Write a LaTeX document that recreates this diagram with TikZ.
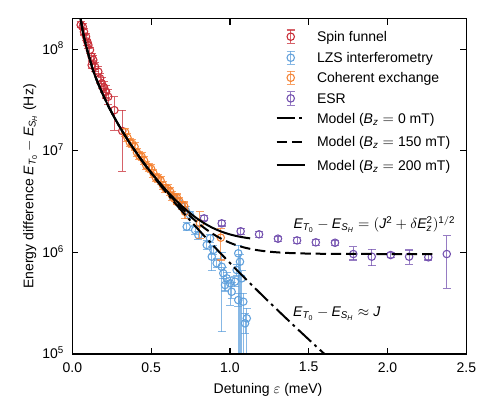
\documentclass[tikz,border=0pt]{standalone}
\usepackage{fontspec}
\setmainfont{Liberation Sans}
\usetikzlibrary{positioning}

\definecolor{funnelred}{RGB}{200,45,55}
\definecolor{lzsblue}{RGB}{95,160,220}
\definecolor{cxorange}{RGB}{245,130,50}
\definecolor{esrpurple}{RGB}{115,80,175}

% one data point: colour, eps, value, low end, high end
\newcommand{\errpt}[5]{%
  \draw[errbar,#1] (#2,#4) -- (#2,#5);
  \draw[errbar,#1] ([xshift=-3pt]#2,#4) -- ([xshift=3pt]#2,#4);
  \draw[errbar,#1] ([xshift=-3pt]#2,#5) -- ([xshift=3pt]#2,#5);
  \draw[ptmark,#1] (#2,#3) circle[radius=2.8pt];}

\begin{document}
\begin{tikzpicture}[
    x=118.2pt, y=76.2pt,
    font=\fontsize{10.5}{12.6}\selectfont,
    axframe/.style={line width=0.9pt},
    axtick/.style={line width=0.9pt},
    errbar/.style={line width=0.8pt, opacity=0.75},
    ptmark/.style={line width=0.8pt},
    modelline/.style={line width=1.5pt, black},
    dashmodel/.style={modelline, dash pattern=on 7.8pt off 3.6pt},
    dotmodel/.style={modelline, dash pattern=on 13.4pt off 3.4pt on 2.1pt off 3.4pt},
    ticklab/.style={inner sep=0pt},
    legtext/.style={anchor=base west, inner sep=0pt},
    declare function={jfit(\x)=2.036-1.14*\x-0.451*ln(\x);
      efit(\x,\z)=max(jfit(\x),\z)+0.5*log10(1+pow(10,-2*abs(jfit(\x)-\z)));}
]
    \useasboundingbox (-0.4588,-0.5807) rectangle (2.6567,3.4843);

    \begin{scope}
    \clip (0,0) rectangle (2.5,3.301);
    % Spin funnel
    \foreach \e/\v/\l/\h in {0.053/3.238/3.21/3.27, 0.066/3.222/3.19/3.25,
        0.074/3.172/3.14/3.20, 0.087/3.123/3.09/3.15, 0.095/3.074/3.04/3.10,
        0.102/3.041/3.01/3.07, 0.112/2.992/2.96/3.02, 0.123/2.926/2.89/2.96,
        0.133/2.894/2.85/2.94, 0.123/2.844/2.81/2.88, 0.144/2.828/2.78/2.87,
        0.165/2.779/2.73/2.83, 0.176/2.713/2.66/2.76, 0.187/2.664/2.61/2.72,
        0.201/2.625/2.57/2.68, 0.214/2.582/2.52/2.64, 0.228/2.532/2.46/2.60,
        0.267/2.40/2.20/2.533, 0.317/2.195/1.80/2.40}
      {\errpt{funnelred}{\e}{\v}{\l}{\h}}
    % LZS interferometry
    \foreach \e/\v/\l/\h in {0.64/1.55/1.52/1.58, 0.67/1.50/1.47/1.53,
        0.694/1.45/1.42/1.48, 0.72/1.41/1.37/1.45, 0.747/1.368/1.33/1.40,
        0.726/1.253/1.22/1.29, 0.779/1.220/1.18/1.26, 0.800/1.171/1.13/1.21,
        0.853/1.073/1.03/1.12, 0.874/1.139/1.10/1.18, 0.885/0.958/0.82/1.06,
        0.895/1.024/0.98/1.07, 0.916/0.893/0.85/0.94, 0.948/0.859/0.22/1.00,
        0.958/0.794/0.74/0.85, 0.969/0.679/0.62/0.74, 0.980/0.745/0.69/0.80,
        1.001/0.696/0.48/0.75, 1.011/0.613/0.55/0.70, 1.032/0.712/0.66/0.76,
        1.043/0.827/0.77/0.88, 1.053/0.991/-0.3/1.07, 1.064/0.908/-0.3/0.98,
        1.075/0.745/-0.3/0.82, 1.053/0.531/0.47/0.60, 1.085/0.515/-0.3/0.60,
        1.107/0.351/-0.3/0.45, 1.096/0.302/0.20/0.40}
      {\errpt{lzsblue}{\e}{\v}{\l}{\h}}
    % Coherent exchange
    \foreach \e [count=\k] in {0.335,0.35,...,0.71} {
      \pgfmathsetmacro\oy{efit(\e,1.108)+0.02+0.015*sin(\k*97)}
      \errpt{cxorange}{\e}{\oy}{\oy-0.04}{\oy+0.04}
    }
    \foreach \e/\v/\l/\h in {0.662/1.499/1.47/1.53, 0.715/1.40/1.33/1.45,
        0.810/1.286/1.139/1.40, 0.942/1.145/0.925/1.237}
      {\errpt{cxorange}{\e}{\v}{\l}{\h}}
    % ESR
    \foreach \e/\v/\l/\h in {0.836/1.335/1.31/1.36, 0.948/1.286/1.26/1.31,
        1.068/1.208/1.18/1.235, 1.185/1.178/1.15/1.205, 1.305/1.135/1.11/1.16,
        1.426/1.118/1.09/1.145, 1.545/1.099/1.07/1.125, 1.667/1.095/1.07/1.12,
        1.783/0.984/0.925/1.056, 1.900/0.958/0.869/1.03, 2.020/0.974/0.95/1.00,
        2.137/0.958/0.883/1.024, 2.259/0.952/0.925/0.98, 2.376/0.984/0.647/1.164}
      {\errpt{esrpurple}{\e}{\v}{\l}{\h}}

    % Models
    \draw[dotmodel] plot[domain=0.053:1.6, samples=100] (\x,{jfit(\x)});
    \draw[dashmodel] plot[domain=0.053:2.29, samples=140] (\x,{efit(\x,0.984)});
    \draw[modelline] plot[domain=0.053:1.13, samples=100] (\x,{efit(\x,1.108)});
    \end{scope}

    % Axes
    \draw[axframe] (0,0) rectangle (2.5,3.301);
    \foreach \t/\lab [count=\i] in {0/0.0,0.5/0.5,1/1.0,1.5/1.5,2/2.0,2.5/2.5} {
      \draw[axtick] (\t,0) -- ++(0,4.5pt);
      \draw[axtick] (\t,3.301) -- ++(0,-4.5pt);
      \node[ticklab, anchor=north] (xt\i) at ([yshift=-6pt]\t,0) {\lab};
    }
    \foreach \d/\p in {0/5,1/6,2/7,3/8} {
      \draw[axtick] (0,\d) -- ++(4.5pt,0);
      \draw[axtick] (2.5,\d) -- ++(-4.5pt,0);
      \node[ticklab, anchor=base east] (yt\p) at ([xshift=-6pt,yshift=-3.7pt]0,\d) {10\textsuperscript{\p}};
    }
    \node[anchor=base] (xlab) at (1.242,-0.384) {Detuning $\varepsilon$ (meV)};
    \node[rotate=90, anchor=base] (ylab) at (-0.247,1.649)
      {Energy difference $\mathit{E}_{\mathit{T}_\mathrm{0}} - \mathit{E}_{\mathit{S}_\mathit{H}}$ (Hz)};

    % Annotations
    \node[legtext] (fullfit) at (1.402,1.237)
      {$\mathit{E}_{\mathit{T}_\mathrm{0}} - \mathit{E}_{\mathit{S}_\mathit{H}} = (\mathit{J}^\mathrm{2} + \delta\mathit{E}_\mathit{z}^\mathrm{2})^{\mathrm{1/2}}$};
    \node[legtext] (jfitlab) at (1.40,0.367)
      {$\mathit{E}_{\mathit{T}_\mathrm{0}} - \mathit{E}_{\mathit{S}_\mathit{H}} \approx \mathit{J}$};

    % Legend
    \errpt{funnelred}{1.386}{3.123}{3.057}{3.189}
    \errpt{lzsblue}{1.386}{2.916}{2.850}{2.982}
    \errpt{cxorange}{1.386}{2.719}{2.653}{2.785}
    \errpt{esrpurple}{1.386}{2.516}{2.450}{2.582}
    \draw[dotmodel] (1.297,2.320) -- (1.477,2.320);
    \draw[dashmodel] (1.297,2.090) -- (1.477,2.090);
    \draw[modelline] (1.297,1.860) -- (1.477,1.860);
    \node[legtext] (lgfunnel) at (1.551,3.074) {Spin funnel};
    \node[legtext] (lglzs) at (1.551,2.867) {LZS interferometry};
    \node[legtext] (lgcx) at (1.551,2.670) {Coherent exchange};
    \node[legtext] (lgesr) at (1.551,2.467) {ESR};
    \node[legtext] (lgzero) at (1.551,2.271) {Model ($\mathit{B}_\mathit{z} = \mathrm{0}$ mT)};
    \node[legtext] (lgmid) at (1.551,2.041) {Model ($\mathit{B}_\mathit{z} = \mathrm{150}$ mT)};
    \node[legtext] (lgfull) at (1.551,1.811) {Model ($\mathit{B}_\mathit{z} = \mathrm{200}$ mT)};
\end{tikzpicture}
\end{document}
